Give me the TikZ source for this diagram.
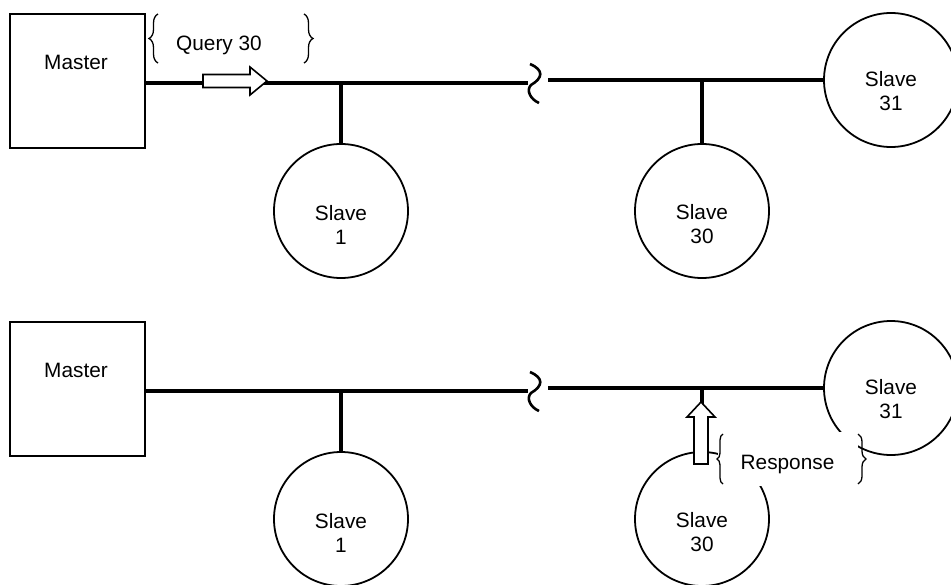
\documentclass[tikz,border=0pt]{standalone}
\usepackage{fontspec}
\setmainfont{Liberation Sans}
\usetikzlibrary{decorations.pathreplacing}

\begin{document}
\begin{tikzpicture}[x=1pt,y=-1pt,
        box/.style={draw,line width=1.8pt,minimum width=135pt,minimum height=134pt,inner sep=0pt},
        slave/.style={draw,circle,line width=1.8pt,minimum size=134pt,inner sep=0pt},
        txt/.style={font=\fontsize{20.8}{24}\selectfont,align=center,inner sep=0pt},
        bus/.style={line width=4.3pt},
        stub/.style={line width=3.8pt},
        brc/.style={decorate,decoration={brace,amplitude=#1},line width=1.3pt},
        blk/.style={draw,fill=white,line width=1.6pt,line join=miter}]
    \useasboundingbox (0,0) rectangle (951,584);
    \clip (0,0) rectangle (951,584);
    \foreach \p/\dy in {a/0,b/308}{
        \node[box] (master\p) at (77.5,81+\dy) {};
        \node[txt,anchor=base] (mastertxt\p) at (76,69+\dy) {Master};
        \node[slave] (slave1\p) at (341,211+\dy) {};
        \node[slave] (slave30\p) at (702,211+\dy) {};
        \node[slave] (slave31\p) at (891,80+\dy) {};
        \node[txt] (s1txt\p) at ([yshift=-13.5pt]slave1\p.center) {Slave\\1};
        \node[txt] (s30txt\p) at ([yshift=-13.5pt]slave30\p.center) {Slave\\30};
        \node[txt] (s31txt\p) at ([yshift=-11pt]slave31\p.center) {Slave\\31};
        \coordinate (busL\p) at (528,83+\dy);
        \coordinate (busR\p) at (548,80+\dy);
        \draw[bus] (master\p.east |- busL\p) -- (busL\p);
        \draw[bus] (busR\p) -- (slave31\p.west);
        \draw[stub] (slave1\p |- busL\p) -- (slave1\p.north);
        \draw[stub] (slave30\p |- busR\p) -- (slave30\p.north);
        \draw[line width=2.6pt] (530,64+\dy) .. controls (544,70+\dy) and (543,78+\dy) .. (531,85+\dy)
            .. controls (526,90+\dy) and (530,99+\dy) .. (539,103+\dy);
    }
    \draw[blk] (203,74.5) -- (250,74.5) -- (250,67) -- (267,81) -- (250,95) -- (250,87.5) -- (203,87.5) -- cycle;
    \draw[brc=9pt] (158,63) -- (158,14);
    \draw[brc=9pt] (304,14) -- (304,63);
    \node[txt,anchor=base] (query) at (219,50) {Query 30};
    \fill[white] (718,432) rectangle (858,486);
    \draw[blk] (694,464) -- (694,417) -- (687,417) -- (701,402) -- (715,417) -- (708,417) -- (708,464) -- cycle;
    \draw[brc=6pt] (723,484) -- (723,434);
    \draw[brc=8pt] (858,434) -- (858,484);
    \node[txt,anchor=base] (response) at (787.5,469) {Response};
\end{tikzpicture}
\end{document}
